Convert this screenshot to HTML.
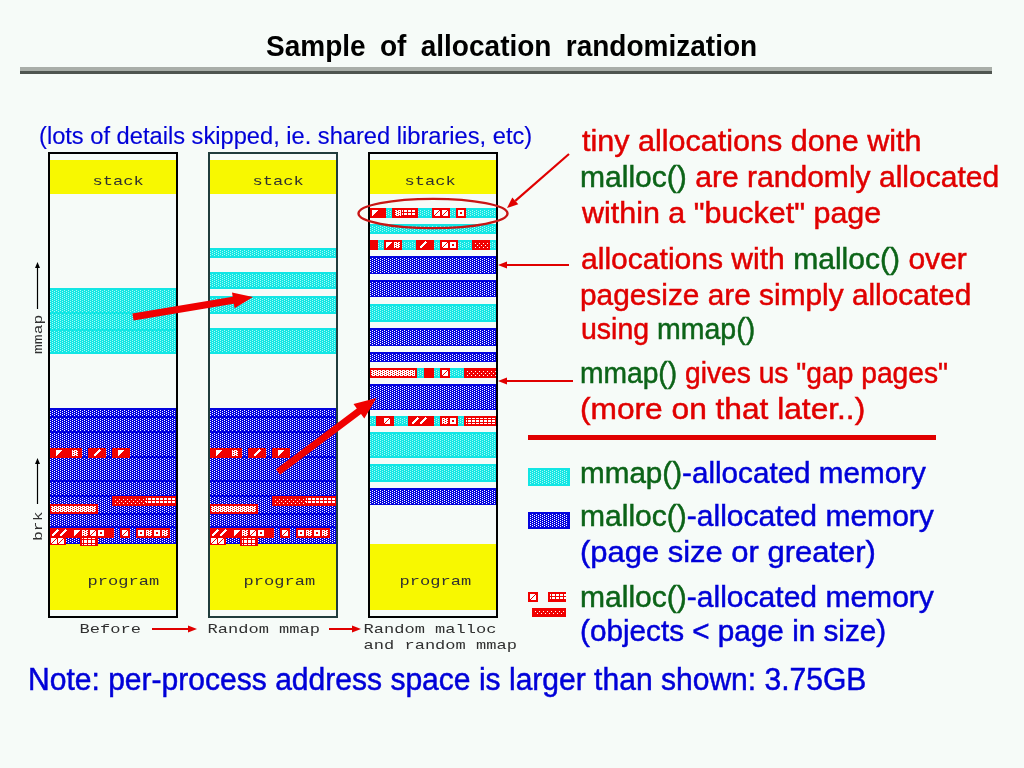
<!DOCTYPE html>
<html><head><meta charset="utf-8"><title>Sample of allocation randomization</title>
<style>html,body{margin:0;padding:0;background:#f6fbf8;} body{width:1024px;height:768px;position:relative;overflow:hidden;}</style>
</head><body>
<svg width="1024" height="768" viewBox="0 0 1024 768" style="position:absolute;left:0;top:0" shape-rendering="crispEdges">
<defs>
<pattern id="pb" width="4" height="2" patternUnits="userSpaceOnUse">
 <rect width="4" height="2" fill="#0404de"/><rect x="0" y="0" width="1" height="1" fill="#fff"/><rect x="2" y="1" width="1" height="1" fill="#fff"/>
</pattern>
<pattern id="pc" width="4" height="2" patternUnits="userSpaceOnUse">
 <rect width="4" height="2" fill="#12e6e4"/><rect x="0" y="0" width="1" height="1" fill="#a8faf4"/><rect x="2" y="1" width="1" height="1" fill="#a8faf4"/>
</pattern>
<pattern id="prd" width="4" height="4" patternUnits="userSpaceOnUse">
 <rect width="4" height="4" fill="#f00000"/><rect x="1" y="1" width="1" height="1" fill="#fff"/><rect x="3" y="3" width="1" height="1" fill="#fff"/>
</pattern>
<pattern id="pwd" width="4" height="2" patternUnits="userSpaceOnUse">
 <rect width="4" height="2" fill="#fff"/><rect x="1" y="0" width="1" height="1" fill="#f00000"/><rect x="3" y="1" width="1" height="1" fill="#f00000"/>
</pattern>
<pattern id="pgrid" width="4" height="4" patternUnits="userSpaceOnUse">
 <rect width="4" height="4" fill="#f00000"/><rect x="0" y="0" width="3" height="3" fill="#fff"/>
</pattern>
<pattern id="pgrid2" width="4" height="3" patternUnits="userSpaceOnUse">
 <rect width="4" height="3" fill="#f00000"/><rect x="0" y="0" width="3" height="2" fill="#fff"/>
</pattern>
</defs>
<rect x="20" y="67" width="972" height="4" fill="#a9aea9" /><rect x="20" y="71" width="972" height="3" fill="#4f5550" /><rect x="50" y="160" width="126" height="34" fill="#f8f800" /><rect x="50" y="544" width="126" height="66" fill="#f8f800" /><rect x="210" y="160" width="126" height="34" fill="#f8f800" /><rect x="210" y="544" width="126" height="66" fill="#f8f800" /><rect x="370" y="160" width="126" height="34" fill="#f8f800" /><rect x="370" y="544" width="126" height="66" fill="#f8f800" /><rect x="50" y="288" width="126" height="66" fill="url(#pc)" /><rect x="50" y="288" width="126" height="2" fill="#12e6e4" /><rect x="50" y="352" width="126" height="2" fill="#12e6e4" /><rect x="50" y="312" width="126" height="2" fill="#12e6e4" /><rect x="50" y="329" width="126" height="2" fill="#12e6e4" /><rect x="50" y="408" width="126" height="136" fill="url(#pb)" /><rect x="50" y="408" width="126" height="2" fill="#0404de" /><rect x="50" y="543" width="126" height="1" fill="#0404de" /><rect x="50" y="416" width="126" height="2" fill="#0404de" /><rect x="50" y="431" width="126" height="2" fill="#0404de" /><rect x="50" y="456" width="126" height="2" fill="#0404de" /><rect x="50" y="480" width="126" height="2" fill="#0404de" /><rect x="50" y="495" width="126" height="2" fill="#0404de" /><rect x="50" y="513" width="126" height="2" fill="#0404de" /><rect x="50" y="526" width="126" height="2" fill="#0404de" /><rect x="50" y="448" width="32" height="10" fill="#f00000" /><path d="M56 450h6l-6 6z" fill="#fff"/><rect x="72" y="450" width="6" height="6" fill="url(#pwd)"/><rect x="88" y="448" width="18" height="10" fill="#f00000" /><path d="M94 456l6-6" stroke="#fff" stroke-width="2"/><rect x="112" y="448" width="18" height="10" fill="#f00000" /><path d="M118 450h6l-6 6z" fill="#fff"/><rect x="112" y="496" width="64" height="10" fill="#f00000" /><rect x="114" y="498" width="32" height="6" fill="url(#prd)" /><rect x="146" y="498" width="30" height="6" fill="url(#pgrid2)" /><rect x="50" y="504" width="48" height="10" fill="#f00000" /><rect x="51" y="506" width="45" height="6" fill="url(#pwd)" /><rect x="50" y="528" width="64" height="10" fill="#f00000" /><path d="M52 536l6-6" stroke="#fff" stroke-width="2"/><path d="M60 536l6-6" stroke="#fff" stroke-width="2"/><path d="M74 530h6l-6 6z" fill="#fff"/><rect x="82" y="530" width="6" height="6" fill="url(#pwd)"/><path d="M90 530h6v6h-6z" fill="#fff"/><path d="M90 536l6-6" stroke="#f00000" stroke-width="1"/><path d="M98 530h6v6h-6z" fill="#fff"/><rect x="100" y="532" width="2" height="2" fill="#f00000"/><rect x="120" y="528" width="10" height="10" fill="#f00000" /><path d="M122 530h6v6h-6z" fill="#fff"/><path d="M122 536l6-6" stroke="#f00000" stroke-width="1"/><rect x="136" y="528" width="34" height="10" fill="#f00000" /><path d="M138 530h6v6h-6z" fill="#fff"/><rect x="140" y="532" width="2" height="2" fill="#f00000"/><rect x="146" y="530" width="6" height="6" fill="url(#pwd)"/><path d="M154 530h6v6h-6z" fill="#fff"/><rect x="156" y="532" width="2" height="2" fill="#f00000"/><rect x="162" y="530" width="6" height="6" fill="url(#pwd)"/><rect x="50" y="537" width="16" height="8" fill="#f00000" /><path d="M51 538h6v6h-6z" fill="#fff"/><path d="M51 544l6-6" stroke="#f00000" stroke-width="1"/><path d="M58 538h6v6h-6z" fill="#fff"/><path d="M58 544l6-6" stroke="#f00000" stroke-width="1"/><rect x="80" y="537" width="18" height="9" fill="#f00000" /><rect x="82" y="538" width="14" height="7" fill="url(#pgrid)" /><rect x="210" y="248" width="126" height="10" fill="url(#pc)" /><rect x="210" y="248" width="126" height="2" fill="#12e6e4" /><rect x="210" y="256" width="126" height="2" fill="#12e6e4" /><rect x="210" y="272" width="126" height="17" fill="url(#pc)" /><rect x="210" y="272" width="126" height="2" fill="#12e6e4" /><rect x="210" y="287" width="126" height="2" fill="#12e6e4" /><rect x="210" y="296" width="126" height="18" fill="url(#pc)" /><rect x="210" y="296" width="126" height="2" fill="#12e6e4" /><rect x="210" y="312" width="126" height="2" fill="#12e6e4" /><rect x="210" y="328" width="126" height="26" fill="url(#pc)" /><rect x="210" y="328" width="126" height="2" fill="#12e6e4" /><rect x="210" y="352" width="126" height="2" fill="#12e6e4" /><rect x="210" y="408" width="126" height="136" fill="url(#pb)" /><rect x="210" y="408" width="126" height="2" fill="#0404de" /><rect x="210" y="543" width="126" height="1" fill="#0404de" /><rect x="210" y="416" width="126" height="2" fill="#0404de" /><rect x="210" y="431" width="126" height="2" fill="#0404de" /><rect x="210" y="456" width="126" height="2" fill="#0404de" /><rect x="210" y="480" width="126" height="2" fill="#0404de" /><rect x="210" y="495" width="126" height="2" fill="#0404de" /><rect x="210" y="513" width="126" height="2" fill="#0404de" /><rect x="210" y="526" width="126" height="2" fill="#0404de" /><rect x="210" y="448" width="32" height="10" fill="#f00000" /><path d="M216 450h6l-6 6z" fill="#fff"/><rect x="232" y="450" width="6" height="6" fill="url(#pwd)"/><rect x="248" y="448" width="18" height="10" fill="#f00000" /><path d="M254 456l6-6" stroke="#fff" stroke-width="2"/><rect x="272" y="448" width="18" height="10" fill="#f00000" /><path d="M278 450h6l-6 6z" fill="#fff"/><rect x="272" y="496" width="64" height="10" fill="#f00000" /><rect x="274" y="498" width="32" height="6" fill="url(#prd)" /><rect x="306" y="498" width="30" height="6" fill="url(#pgrid2)" /><rect x="210" y="504" width="48" height="10" fill="#f00000" /><rect x="211" y="506" width="45" height="6" fill="url(#pwd)" /><rect x="210" y="528" width="64" height="10" fill="#f00000" /><path d="M212 536l6-6" stroke="#fff" stroke-width="2"/><path d="M220 536l6-6" stroke="#fff" stroke-width="2"/><path d="M234 530h6l-6 6z" fill="#fff"/><rect x="242" y="530" width="6" height="6" fill="url(#pwd)"/><path d="M250 530h6v6h-6z" fill="#fff"/><path d="M250 536l6-6" stroke="#f00000" stroke-width="1"/><path d="M258 530h6v6h-6z" fill="#fff"/><rect x="260" y="532" width="2" height="2" fill="#f00000"/><rect x="280" y="528" width="10" height="10" fill="#f00000" /><path d="M282 530h6v6h-6z" fill="#fff"/><path d="M282 536l6-6" stroke="#f00000" stroke-width="1"/><rect x="296" y="528" width="34" height="10" fill="#f00000" /><path d="M298 530h6v6h-6z" fill="#fff"/><rect x="300" y="532" width="2" height="2" fill="#f00000"/><rect x="306" y="530" width="6" height="6" fill="url(#pwd)"/><path d="M314 530h6v6h-6z" fill="#fff"/><rect x="316" y="532" width="2" height="2" fill="#f00000"/><rect x="322" y="530" width="6" height="6" fill="url(#pwd)"/><rect x="210" y="537" width="16" height="8" fill="#f00000" /><path d="M211 538h6v6h-6z" fill="#fff"/><path d="M211 544l6-6" stroke="#f00000" stroke-width="1"/><path d="M218 538h6v6h-6z" fill="#fff"/><path d="M218 544l6-6" stroke="#f00000" stroke-width="1"/><rect x="240" y="537" width="18" height="9" fill="#f00000" /><rect x="242" y="538" width="14" height="7" fill="url(#pgrid)" /><rect x="370" y="208" width="126" height="10" fill="url(#pc)" /><rect x="370" y="208" width="126" height="2" fill="#12e6e4" /><rect x="370" y="216" width="126" height="2" fill="#12e6e4" /><rect x="370" y="208" width="16" height="10" fill="#f00000" /><rect x="392" y="208" width="26" height="10" fill="#f00000" /><rect x="432" y="208" width="18" height="10" fill="#f00000" /><rect x="456" y="208" width="10" height="10" fill="#f00000" /><path d="M372 210h6l-6 6z" fill="#fff"/><rect x="395" y="210" width="6" height="6" fill="url(#pwd)"/><rect x="402" y="210" width="14" height="6" fill="url(#pgrid2)" /><path d="M434 210h6v6h-6z" fill="#fff"/><path d="M434 216l6-6" stroke="#f00000" stroke-width="1"/><path d="M442 210h6v6h-6z" fill="#fff"/><path d="M442 216l6-6" stroke="#f00000" stroke-width="1"/><path d="M458 210h6v6h-6z" fill="#fff"/><rect x="460" y="212" width="2" height="2" fill="#f00000"/><rect x="370" y="224" width="126" height="10" fill="url(#pc)" /><rect x="370" y="224" width="126" height="2" fill="#12e6e4" /><rect x="370" y="232" width="126" height="2" fill="#12e6e4" /><rect x="370" y="240" width="126" height="10" fill="url(#pc)" /><rect x="370" y="240" width="126" height="2" fill="#12e6e4" /><rect x="370" y="248" width="126" height="2" fill="#12e6e4" /><rect x="370" y="240" width="8" height="10" fill="#f00000" /><rect x="384" y="240" width="18" height="10" fill="#f00000" /><rect x="416" y="240" width="18" height="10" fill="#f00000" /><rect x="440" y="240" width="18" height="10" fill="#f00000" /><rect x="472" y="240" width="18" height="10" fill="#f00000" /><path d="M386 242h6l-6 6z" fill="#fff"/><rect x="394" y="242" width="6" height="6" fill="url(#pwd)"/><path d="M420 248l6-6" stroke="#fff" stroke-width="2"/><path d="M442 242h6v6h-6z" fill="#fff"/><path d="M442 248l6-6" stroke="#f00000" stroke-width="1"/><path d="M450 242h6v6h-6z" fill="#fff"/><rect x="452" y="244" width="2" height="2" fill="#f00000"/><rect x="474" y="242" width="14" height="6" fill="url(#prd)" /><rect x="370" y="256" width="126" height="18" fill="url(#pb)" /><rect x="370" y="256" width="126" height="2" fill="#0404de" /><rect x="370" y="273" width="126" height="1" fill="#0404de" /><rect x="370" y="280" width="126" height="17" fill="url(#pb)" /><rect x="370" y="280" width="126" height="2" fill="#0404de" /><rect x="370" y="296" width="126" height="1" fill="#0404de" /><rect x="370" y="304" width="126" height="18" fill="url(#pc)" /><rect x="370" y="304" width="126" height="2" fill="#12e6e4" /><rect x="370" y="320" width="126" height="2" fill="#12e6e4" /><rect x="370" y="328" width="126" height="18" fill="url(#pb)" /><rect x="370" y="328" width="126" height="2" fill="#0404de" /><rect x="370" y="345" width="126" height="1" fill="#0404de" /><rect x="370" y="352" width="126" height="10" fill="url(#pb)" /><rect x="370" y="352" width="126" height="2" fill="#0404de" /><rect x="370" y="361" width="126" height="1" fill="#0404de" /><rect x="370" y="368" width="126" height="10" fill="url(#pc)" /><rect x="370" y="368" width="126" height="2" fill="#12e6e4" /><rect x="370" y="376" width="126" height="2" fill="#12e6e4" /><rect x="370" y="368" width="47" height="10" fill="#f00000" /><rect x="371" y="370" width="44" height="6" fill="url(#pwd)" /><rect x="424" y="368" width="10" height="10" fill="#f00000" /><rect x="440" y="368" width="10" height="10" fill="#f00000" /><path d="M442 370h6v6h-6z" fill="#fff"/><path d="M442 376l6-6" stroke="#f00000" stroke-width="1"/><rect x="464" y="368" width="32" height="10" fill="#f00000" /><rect x="466" y="370" width="30" height="6" fill="url(#prd)" /><rect x="370" y="384" width="126" height="26" fill="url(#pb)" /><rect x="370" y="384" width="126" height="2" fill="#0404de" /><rect x="370" y="409" width="126" height="1" fill="#0404de" /><rect x="370" y="416" width="126" height="10" fill="url(#pc)" /><rect x="370" y="416" width="126" height="2" fill="#12e6e4" /><rect x="370" y="424" width="126" height="2" fill="#12e6e4" /><rect x="376" y="416" width="18" height="10" fill="#f00000" /><path d="M384 418h6v6h-6z" fill="#fff"/><path d="M384 424l6-6" stroke="#f00000" stroke-width="1"/><rect x="408" y="416" width="26" height="10" fill="#f00000" /><path d="M412 424l6-6" stroke="#fff" stroke-width="2"/><path d="M420 424l6-6" stroke="#fff" stroke-width="2"/><rect x="440" y="416" width="18" height="10" fill="#f00000" /><rect x="442" y="418" width="6" height="6" fill="url(#pwd)"/><path d="M450 418h6v6h-6z" fill="#fff"/><rect x="452" y="420" width="2" height="2" fill="#f00000"/><rect x="464" y="416" width="32" height="10" fill="#f00000" /><rect x="466" y="418" width="30" height="6" fill="url(#pgrid2)" /><rect x="370" y="432" width="126" height="26" fill="url(#pc)" /><rect x="370" y="432" width="126" height="2" fill="#12e6e4" /><rect x="370" y="456" width="126" height="2" fill="#12e6e4" /><rect x="370" y="464" width="126" height="18" fill="url(#pc)" /><rect x="370" y="464" width="126" height="2" fill="#12e6e4" /><rect x="370" y="480" width="126" height="2" fill="#12e6e4" /><rect x="370" y="488" width="126" height="17" fill="url(#pb)" /><rect x="370" y="488" width="126" height="2" fill="#0404de" /><rect x="370" y="504" width="126" height="1" fill="#0404de" /><rect x="49" y="153" width="128" height="464" fill="none" stroke="#000" stroke-width="2"/><rect x="209" y="153" width="128" height="464" fill="none" stroke="#203c3c" stroke-width="2"/><rect x="369" y="153" width="128" height="464" fill="none" stroke="#000" stroke-width="2"/><rect x="528" y="468" width="42" height="18" fill="#12e6e4" /><rect x="530" y="470" width="38" height="14" fill="url(#pc)" /><rect x="528" y="512" width="42" height="17" fill="#0404de" /><rect x="530" y="514" width="38" height="13" fill="url(#pb)" /><rect x="528" y="592" width="10" height="10" fill="#f00000" /><path d="M530 594h6v6h-6z" fill="#fff"/><path d="M530 600l6-6" stroke="#f00000" stroke-width="1"/><rect x="548" y="592" width="18" height="10" fill="#f00000" /><rect x="550" y="594" width="16" height="6" fill="url(#pgrid2)" /><rect x="532" y="608" width="34" height="9" fill="#f00000" /><rect x="534" y="610" width="30" height="5" fill="url(#prd)" /><rect x="528" y="435" width="408" height="5" fill="#e00000" /></svg><svg width="1024" height="768" viewBox="0 0 1024 768" style="position:absolute;left:0;top:0;will-change:transform"><polygon points="133.6,320.5 233.8,303.7 234.6,308.2 253.0,297.0 232.0,292.4 232.7,296.8 132.4,313.5" fill="#f00000"/><polygon points="280.1,474.8 361.0,414.0 364.3,418.4 376.5,398.0 353.5,404.0 356.8,408.4 275.9,469.2" fill="#f00000"/><line x1="569" y1="265" x2="507.0" y2="265.0" stroke="#e00000" stroke-width="2"/><polygon points="498.0,265.0 507.0,261.5 507.0,268.5" fill="#e00000"/><line x1="573" y1="381" x2="507.0" y2="381.0" stroke="#e00000" stroke-width="2"/><polygon points="498.0,381.0 507.0,377.5 507.0,384.5" fill="#e00000"/><line x1="569" y1="154" x2="515.3" y2="200.8" stroke="#e00000" stroke-width="2.2"/><polygon points="507.0,208.0 512.3,197.4 518.3,204.2" fill="#e00000"/><line x1="152" y1="629" x2="188.0" y2="629.0" stroke="#e00000" stroke-width="2"/><polygon points="197.0,629.0 188.0,632.5 188.0,625.5" fill="#e00000"/><line x1="329" y1="629" x2="352.0" y2="629.0" stroke="#e00000" stroke-width="2"/><polygon points="361.0,629.0 352.0,632.5 352.0,625.5" fill="#e00000"/><ellipse cx="433" cy="213.5" rx="74.5" ry="14.6" fill="none" stroke="#c81414" stroke-width="2.4"/><line x1="37.5" y1="309" x2="37.5" y2="268.0" stroke="#000" stroke-width="1.2"/><polygon points="37.5,262.0 40.0,268.0 35.0,268.0" fill="#000"/><line x1="37.5" y1="504" x2="37.5" y2="464.0" stroke="#000" stroke-width="1.2"/><polygon points="37.5,458.0 40.0,464.0 35.0,464.0" fill="#000"/><g transform="translate(266,56) scale(0.9341,1.0)"><text x="0" y="0" font-family="'Liberation Sans', sans-serif" font-size="30" font-weight="bold" fill="#000" word-spacing="7" text-anchor="start">Sample of allocation randomization</text></g><g transform="translate(39,143.8) scale(0.9863,1.0)"><text x="0" y="0" font-family="'Liberation Sans', sans-serif" font-size="24" font-weight="normal" fill="#0000d8" stroke="#0000d8" stroke-width="0.15" word-spacing="0" text-anchor="start">(lots of details skipped, ie. shared libraries, etc)</text></g><g transform="translate(582,150.8) scale(1.0181,1.0)"><text x="0" y="0" font-family="'Liberation Sans', sans-serif" font-size="30" font-weight="normal" fill="#e00000" stroke="#e00000" stroke-width="0.5" word-spacing="0" text-anchor="start"><tspan fill="#e00000" stroke="#e00000">tiny allocations done with</tspan></text></g><g transform="translate(580,187) scale(1.0024,1.0)"><text x="0" y="0" font-family="'Liberation Sans', sans-serif" font-size="30" font-weight="normal" fill="#e00000" stroke="#e00000" stroke-width="0.5" word-spacing="0" text-anchor="start"><tspan fill="#0c6418" stroke="#0c6418">malloc()</tspan><tspan fill="#e00000" stroke="#e00000"> are randomly allocated</tspan></text></g><g transform="translate(582,223) scale(1.0153,1.0)"><text x="0" y="0" font-family="'Liberation Sans', sans-serif" font-size="30" font-weight="normal" fill="#e00000" stroke="#e00000" stroke-width="0.5" word-spacing="0" text-anchor="start"><tspan fill="#e00000" stroke="#e00000">within a "bucket" page</tspan></text></g><g transform="translate(581,268.5) scale(1.0026,1.0)"><text x="0" y="0" font-family="'Liberation Sans', sans-serif" font-size="30" font-weight="normal" fill="#e00000" stroke="#e00000" stroke-width="0.5" word-spacing="0" text-anchor="start"><tspan fill="#e00000" stroke="#e00000">allocations with </tspan><tspan fill="#0c6418" stroke="#0c6418">malloc()</tspan><tspan fill="#e00000" stroke="#e00000"> over</tspan></text></g><g transform="translate(580,304.8) scale(0.9948,1.0)"><text x="0" y="0" font-family="'Liberation Sans', sans-serif" font-size="30" font-weight="normal" fill="#e00000" stroke="#e00000" stroke-width="0.5" word-spacing="0" text-anchor="start"><tspan fill="#e00000" stroke="#e00000">pagesize are simply allocated</tspan></text></g><g transform="translate(581,339.3) scale(0.9501,1.0)"><text x="0" y="0" font-family="'Liberation Sans', sans-serif" font-size="30" font-weight="normal" fill="#e00000" stroke="#e00000" stroke-width="0.5" word-spacing="0" text-anchor="start"><tspan fill="#e00000" stroke="#e00000">using </tspan><tspan fill="#0c6418" stroke="#0c6418">mmap()</tspan></text></g><g transform="translate(580,382.6) scale(0.9407,1.0)"><text x="0" y="0" font-family="'Liberation Sans', sans-serif" font-size="30" font-weight="normal" fill="#e00000" stroke="#e00000" stroke-width="0.5" word-spacing="0" text-anchor="start"><tspan fill="#0c6418" stroke="#0c6418">mmap()</tspan><tspan fill="#e00000" stroke="#e00000"> gives us "gap pages"</tspan></text></g><g transform="translate(580,419.4) scale(1.0562,1.0)"><text x="0" y="0" font-family="'Liberation Sans', sans-serif" font-size="30" font-weight="normal" fill="#e00000" stroke="#e00000" stroke-width="0.5" word-spacing="0" text-anchor="start"><tspan fill="#e00000" stroke="#e00000">(more on that later..)</tspan></text></g><g transform="translate(580,483) scale(0.9885,1.0)"><text x="0" y="0" font-family="'Liberation Sans', sans-serif" font-size="30" font-weight="normal" fill="#e00000" stroke="#e00000" stroke-width="0.5" word-spacing="0" text-anchor="start"><tspan fill="#0c6418" stroke="#0c6418">mmap()</tspan><tspan fill="#0000d8" stroke="#0000d8">-allocated memory</tspan></text></g><g transform="translate(580,525.5) scale(1.0014,1.0)"><text x="0" y="0" font-family="'Liberation Sans', sans-serif" font-size="30" font-weight="normal" fill="#e00000" stroke="#e00000" stroke-width="0.5" word-spacing="0" text-anchor="start"><tspan fill="#0c6418" stroke="#0c6418">malloc()</tspan><tspan fill="#0000d8" stroke="#0000d8">-allocated memory</tspan></text></g><g transform="translate(580,562) scale(1.0318,1.0)"><text x="0" y="0" font-family="'Liberation Sans', sans-serif" font-size="30" font-weight="normal" fill="#e00000" stroke="#e00000" stroke-width="0.5" word-spacing="0" text-anchor="start"><tspan fill="#0000d8" stroke="#0000d8">(page size or greater)</tspan></text></g><g transform="translate(580,607.2) scale(1.0014,1.0)"><text x="0" y="0" font-family="'Liberation Sans', sans-serif" font-size="30" font-weight="normal" fill="#e00000" stroke="#e00000" stroke-width="0.5" word-spacing="0" text-anchor="start"><tspan fill="#0c6418" stroke="#0c6418">malloc()</tspan><tspan fill="#0000d8" stroke="#0000d8">-allocated memory</tspan></text></g><g transform="translate(580,641.4) scale(0.9902,1.0)"><text x="0" y="0" font-family="'Liberation Sans', sans-serif" font-size="30" font-weight="normal" fill="#e00000" stroke="#e00000" stroke-width="0.5" word-spacing="0" text-anchor="start"><tspan fill="#0000d8" stroke="#0000d8">(objects &lt; page in size)</tspan></text></g><g transform="translate(28,690.4) scale(0.9699,1.0)"><text x="0" y="0" font-family="'Liberation Sans', sans-serif" font-size="31" font-weight="normal" fill="#0000d8" stroke="#0000d8" stroke-width="0.5" word-spacing="0" text-anchor="start">Note: per-process address space is larger than shown: 3.75GB</text></g><g transform="translate(92.5,185) scale(1.04,0.83)"><text x="0" y="0" font-family="'Liberation Mono', monospace" font-size="16.4" font-weight="normal" fill="#303030" word-spacing="0" text-anchor="start">stack</text></g><g transform="translate(252.5,185) scale(1.04,0.83)"><text x="0" y="0" font-family="'Liberation Mono', monospace" font-size="16.4" font-weight="normal" fill="#303030" word-spacing="0" text-anchor="start">stack</text></g><g transform="translate(404.5,185) scale(1.04,0.83)"><text x="0" y="0" font-family="'Liberation Mono', monospace" font-size="16.4" font-weight="normal" fill="#303030" word-spacing="0" text-anchor="start">stack</text></g><g transform="translate(87.5,585) scale(1.04,0.83)"><text x="0" y="0" font-family="'Liberation Mono', monospace" font-size="16.4" font-weight="normal" fill="#303030" word-spacing="0" text-anchor="start">program</text></g><g transform="translate(243.5,585) scale(1.04,0.83)"><text x="0" y="0" font-family="'Liberation Mono', monospace" font-size="16.4" font-weight="normal" fill="#303030" word-spacing="0" text-anchor="start">program</text></g><g transform="translate(399.5,585) scale(1.04,0.83)"><text x="0" y="0" font-family="'Liberation Mono', monospace" font-size="16.4" font-weight="normal" fill="#303030" word-spacing="0" text-anchor="start">program</text></g><g transform="translate(79.5,632.8) scale(1.04,0.83)"><text x="0" y="0" font-family="'Liberation Mono', monospace" font-size="16.4" font-weight="normal" fill="#303030" word-spacing="0" text-anchor="start">Before</text></g><g transform="translate(207.5,632.8) scale(1.04,0.83)"><text x="0" y="0" font-family="'Liberation Mono', monospace" font-size="16.4" font-weight="normal" fill="#303030" word-spacing="0" text-anchor="start">Random mmap</text></g><g transform="translate(363.5,632.8) scale(1.04,0.83)"><text x="0" y="0" font-family="'Liberation Mono', monospace" font-size="16.4" font-weight="normal" fill="#303030" word-spacing="0" text-anchor="start">Random malloc</text></g><g transform="translate(363.5,648.8) scale(1.04,0.83)"><text x="0" y="0" font-family="'Liberation Mono', monospace" font-size="16.4" font-weight="normal" fill="#303030" word-spacing="0" text-anchor="start">and random mmap</text></g><text transform="translate(42,354) rotate(-90) scale(1,0.83)" font-family="'Liberation Mono', monospace" font-size="16.4" fill="#303030">mmap</text><text transform="translate(42,541) rotate(-90) scale(1,0.83)" font-family="'Liberation Mono', monospace" font-size="16.4" fill="#303030">brk</text></svg>
</body></html>
